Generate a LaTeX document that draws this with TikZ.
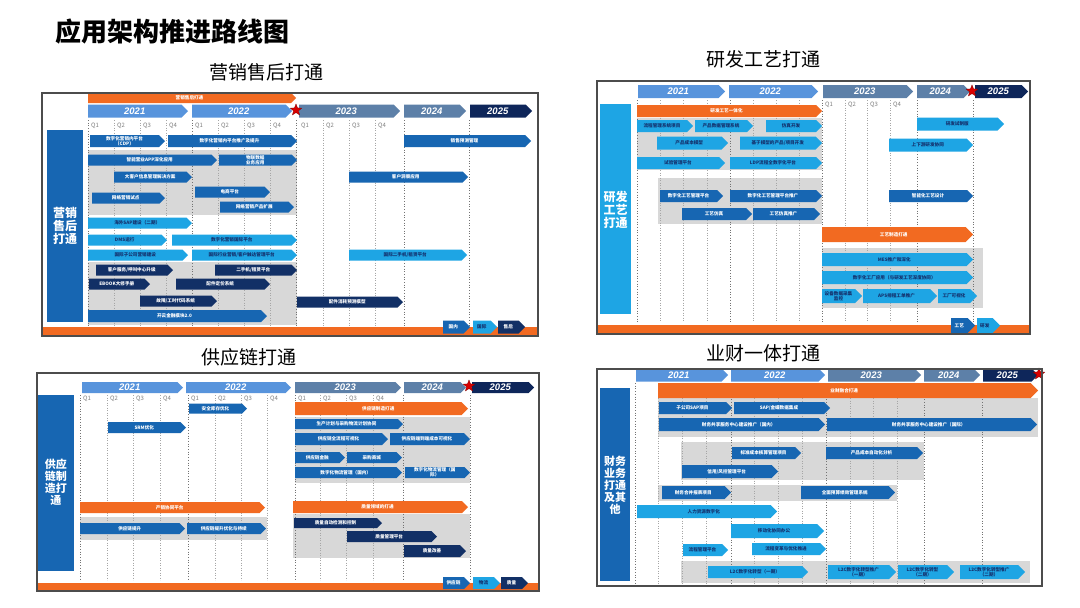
\documentclass[tikz,border=0pt]{standalone}
\usepackage{fontspec}
\setmainfont{Noto Sans CJK SC}
\newfontfamily\lsans{Liberation Sans}
\usetikzlibrary{shapes.geometric}
\definecolor{dblue}{RGB}{23,102,178}
\definecolor{lblue}{RGB}{30,165,228}
\definecolor{navy}{RGB}{18,48,102}
\definecolor{orng}{RGB}{242,106,33}
\definecolor{gbg}{RGB}{216,216,216}
\definecolor{yA}{RGB}{88,148,220}
\definecolor{yB}{RGB}{93,128,168}
\definecolor{yC}{RGB}{14,38,90}
\definecolor{dtext}{RGB}{20,50,110}
\newcounter{cv}
\newcommand\chev[6][11]{%
  \stepcounter{cv}%
  \fill[#5] (#2,#4-#1/2) -- (#3-#1/2,#4-#1/2) -- (#3,#4) -- (#3-#1/2,#4+#1/2) -- (#2,#4+#1/2) -- cycle;
  \node[bt,#5t] (c\arabic{cv}) at ({(#2+#3)/2-#1/4},#4) {#6};}
\newcommand\yr[6]{%
  \stepcounter{cv}%
  \fill[#5] (#1,#3-#4/2) -- (#2-#4/2,#3-#4/2) -- (#2,#3) -- (#2-#4/2,#3+#4/2) -- (#1,#3+#4/2) -- cycle;
  \node[yt] (y\arabic{cv}) at ({(#1+#2)/2-#4/4},#3) {#6};}
\begin{document}
\begin{tikzpicture}[x=1pt,y=-1pt,
  B/.style={fill=dblue}, Bt/.style={text=white},
  L/.style={fill=lblue}, Lt/.style={text=dtext},
  N/.style={fill=navy}, Nt/.style={text=white},
  O/.style={fill=orng}, Ot/.style={text=white},
  bt/.style={font=\fontsize{4.6}{5.3}\selectfont\bfseries,inner sep=0pt,align=center},
  yt/.style={text=white,font=\lsans\fontsize{9.5}{10}\selectfont\bfseries\itshape,inner sep=0pt},
  ql/.style={text=black!50,font=\fontsize{6}{7}\selectfont,anchor=west,inner sep=0pt},
  lbl/.style={text=white,font=\fontsize{12}{13}\selectfont\bfseries,align=center,inner sep=0pt},
  ptitle/.style={font=\fontsize{19}{21}\selectfont,inner sep=0pt},
  frame/.style={draw=black!70,line width=1.1pt},
  qline/.style={draw=black!35,dotted,line width=0.5pt},
  yline/.style={draw=black!55,dotted,line width=0.7pt},
  rstar/.style={star,star points=5,star point ratio=2.3,fill=red!85!black,draw=red!50!black,line width=0.3pt,minimum size=12pt,inner sep=0pt}]
\useasboundingbox (0,0) rectangle (1080,608);
\fill[white] (0,0) rectangle (1080,608);
\node[anchor=west,font=\fontsize{26}{28}\selectfont\bfseries,inner sep=0pt] (title) at (55,32) {应用架构推进路线图};
\node[ptitle] (t1) at (266,72) {营销售后打通};
\node[ptitle] (t2) at (763,59) {研发工艺打通};
\node[ptitle] (t3) at (249,357) {供应链打通};
\node[ptitle] (t4) at (763,353) {业财一体打通};

%================ Panel 1
\fill[gbg] (88,150) rectangle (297,215);
\fill[gbg] (88,262) rectangle (297,325);
\foreach \x in {114,140,166,218,244,270,323,349,375} \draw[qline] (\x,120)--(\x,326);
\foreach \x in {88,192,296,404,469} \draw[yline] (\x,120)--(\x,326);
\chev[10]{88}{296}{98}{O}{营销售后打通}
\yr{88}{188}{111}{13}{yA}{2021}
\yr{192}{292}{111}{13}{yA}{2022}
\yr{299}{400}{111}{13}{yB}{2023}
\yr{404}{466}{111}{13}{yB}{2024}
\yr{470}{532}{111}{13}{yC}{2025}
\node[rstar] (s1) at (296,110) {};
\foreach \x/\q in {88/Q1,114/Q2,140/Q3,166/Q4,192/Q1,218/Q2,244/Q3,270/Q4,298/Q1,323/Q2,349/Q3,375/Q4} \node[ql] at (\x+3,126) {\q};
\fill[dblue] (47,130) rectangle (83,322);
\node[lbl] (l1) at (65,226) {营销\\售后\\打通};
\chev[12]{90}{165}{141}{B}{数字化营销内平台\\（CDP）}
\chev[12]{168}{297}{141}{B}{数字化营销内平台推广及提升}
\chev[12]{404}{531}{141}{B}{销售预测管理}
\chev{88}{217}{160}{B}{智能营业APP深化应用}
\chev{219}{297}{160}{B}{物联数据\\业务应用}
\chev{114}{192}{177}{B}{大客户信息管理解决方案}
\chev{349}{468}{177}{B}{客户洞察应用}
\chev{195}{270}{192}{B}{电商平台}
\chev{92}{165}{198}{B}{网络营销试点}
\chev{220}{294}{207}{B}{网络营销产品扩展}
\chev{88}{192}{223}{L}{海外SAP建设（二期）}
\chev{88}{167}{240}{L}{DMS运行}
\chev{172}{297}{240}{L}{数字化营销国际平台}
\chev{88}{188}{255}{L}{国际子公司营销建设}
\chev{192}{297}{255}{L}{国际行业营销/客户触达管理平台}
\chev{349}{467}{255}{L}{国际二手机/租赁平台}
\chev{96}{173}{270}{N}{客户服务/呼叫中心升级}
\chev{215}{297}{270}{N}{二手机/租赁平台}
\chev{89}{150}{284}{N}{EBOOK大修手册}
\chev{176}{270}{284}{N}{配件定价系统}
\chev{140}{217}{301}{N}{故障/工时代码系统}
\chev{297}{403}{302}{N}{配件消耗预测模型}
\chev[12]{88}{267}{316}{B}{开云金融模块2.0}
\fill[orng] (42,327) rectangle (538,335);
\chev[13]{443}{470}{327}{B}{国内}
\chev[13]{473}{497}{327}{L}{国际}
\chev[13]{498}{525}{327}{N}{售后}
\draw[frame] (42,93) rectangle (538,336);

%================ Panel 2
\fill[gbg] (637,118) rectangle (822,170);
\fill[gbg] (658,178) rectangle (822,224);
\fill[gbg] (822,248) rectangle (983,308);
\foreach \x in {660,683,707,753,776,799,845,867,890} \draw[qline] (\x,100)--(\x,322);
\foreach \x in {637,730,822,917,973} \draw[yline] (\x,100)--(\x,322);
\yr{638}{725}{91.5}{13}{yA}{2021}
\yr{729}{818}{91.5}{13}{yA}{2022}
\yr{823}{913}{91.5}{13}{yB}{2023}
\yr{917}{970}{91.5}{13}{yB}{2024}
\yr{975}{1028}{91.5}{13}{yC}{2025}
\node[rstar] (s2) at (972,91) {};
\foreach \x/\q in {822/Q1,845/Q2,867/Q3,890/Q4} \node[ql] at (\x+3,105) {\q};
\chev[12]{637}{822}{111}{O}{研发工艺一体化}
\fill[lblue] (600,104) rectangle (631,314);
\node[lbl] (l2) at (615.5,210) {研发\\工艺\\打通};
\chev[12]{637}{693}{126}{L}{流程管理系统项目}
\chev[12]{695}{753}{126}{L}{产品数据管理系统}
\chev[12]{766}{822}{126}{L}{仿真开发}
\chev[13]{917}{1004}{124}{L}{研发试制版}
\chev[13]{657}{728}{143}{L}{产品成本模型}
\chev[13]{740}{822}{143}{L}{基于模型的产品/项目开发}
\chev[13]{889}{973}{145}{L}{上下游研发协同}
\chev[12]{637}{725}{163}{L}{试验管理平台}
\chev[12]{730}{822}{163}{L}{LDP流程全数字化平台}
\chev[12]{660}{723}{196}{B}{数字化工艺管理平台}
\chev[12]{730}{822}{196}{B}{数字化工艺管理平台推广}
\chev[12]{889}{973}{196}{B}{智能化工艺设计}
\chev[12]{682}{752}{214}{B}{工艺仿真}
\chev[12]{753}{820}{214}{B}{工艺仿真推广}
\chev[15]{822}{973}{234.5}{O}{工艺制造打通}
\chev[13]{822}{973}{259.5}{L}{MES推广和深化}
\chev[13]{822}{973}{277.5}{L}{数字化工厂应用（与研发工艺深度协同）}
\chev[14]{822}{862}{296}{L}{设备数据采集\\监控}
\chev[14]{863}{937}{296}{L}{APS排程工单推广}
\chev[14]{938}{977}{296}{L}{工厂可视化}
\fill[orng] (597,325) rectangle (1030,333);
\chev[15]{951}{975}{325.5}{B}{工艺}
\chev[15]{977}{1000}{325.5}{L}{研发}
\draw[frame] (597,81) rectangle (1030,334);

%================ Panel 3
\fill[gbg] (295,417) rectangle (470,483);
\fill[gbg] (80,517) rectangle (267,540);
\fill[gbg] (293,514) rectangle (470,558);
\foreach \x in {107,133,160,215,241,267,320,346,373} \draw[qline] (\x,395)--(\x,580);
\foreach \x in {80,188,295,403,470} \draw[yline] (\x,395)--(\x,580);
\yr{82}{183}{387.5}{11}{yA}{2021}
\yr{186}{291}{387.5}{11}{yA}{2022}
\yr{295}{401}{387.5}{11}{yB}{2023}
\yr{404}{466}{387.5}{11}{yB}{2024}
\yr{472}{534}{387.5}{11}{yC}{2025}
\node[rstar] (s3) at (469,386) {};
\foreach \x/\q in {80/Q1,107/Q2,133/Q3,160/Q4,188/Q1,215/Q2,241/Q3,267/Q4,295/Q1,320/Q2,346/Q3,373/Q4} \node[ql] at (\x+3,399) {\q};
\fill[dblue] (38,395) rectangle (74,571);
\node[lbl,font=\fontsize{11}{12}\selectfont\bfseries] (l3) at (56,482) {供应\\链制\\造打\\通};
\chev[10]{189}{247}{408.5}{B}{安全库存优化}
\chev{108}{186}{427.5}{B}{SRM优化}
\chev[13]{295}{468}{408.5}{O}{供应链制造打通}
\chev[10]{295}{403}{424}{B}{生产计划与采购物流计划协同}
\chev[12]{295}{388}{439}{B}{供应链全流程可视化}
\chev[12]{390}{470}{439}{B}{供应链端到端成本可视化}
\chev{295}{345}{457.5}{B}{供应链金融}
\chev{347}{402}{457.5}{B}{采购商城}
\chev{295}{402}{472.5}{B}{数字化物流管理（国内）}
\chev{405}{470}{472.5}{B}{数字化物流管理（国\\际）}
\chev{80}{265}{507.5}{O}{产销协同平台}
\chev{80}{185}{528.5}{B}{供应链提升}
\chev{187}{266}{528.5}{B}{供应链提升优化与持续}
\chev[12]{293}{468}{507}{O}{质量领域的打通}
\chev[10]{294}{382}{523}{N}{质量自动检测和控制}
\chev{347}{437}{536.5}{N}{质量管理平台}
\chev[12]{404}{466}{551}{N}{质量改善}
\fill[orng] (37,583) rectangle (539,590);
\chev[12]{443}{470}{583}{B}{供应链}
\chev[12]{473}{500}{583}{L}{物流}
\chev[12]{501}{528}{583}{N}{质量}
\draw[frame] (37,373) rectangle (539,591);

%================ Panel 4
\fill[gbg] (658,398) rectangle (1038,437);
\fill[gbg] (681,442) rectangle (924,480);
\fill[gbg] (658,485) rectangle (897,501);
\fill[gbg] (681,561) rectangle (1030,583);
\foreach \x in {658,682,706,754,778,802,850,873,897} \draw[qline] (\x,383)--(\x,586);
\foreach \x in {635,731,826,924,982} \draw[yline] (\x,383)--(\x,586);
\yr{636}{728}{375}{13}{yA}{2021}
\yr{731}{825}{375}{13}{yA}{2022}
\yr{828}{921}{375}{13}{yB}{2023}
\yr{924}{980}{375}{13}{yB}{2024}
\yr{983}{1038}{375}{13}{yC}{2025}
\node[rstar] (s4) at (1039,374) {};
\fill[dblue] (600,388) rectangle (630,581);
\node[lbl,font=\fontsize{11}{12}\selectfont\bfseries] (l4) at (615,485) {财务\\业务\\打通\\及其\\他};
\chev[15]{658}{1038}{390.5}{O}{业财融合打通}
\chev[12]{659}{732}{408}{B}{子公司SAP项目}
\chev[12]{734}{830}{408}{B}{SAP/金蝶数据集成}
\chev[13]{659}{825}{424.5}{B}{财务共享服务中心建设推广（国内）}
\chev[13]{827}{1037}{424.5}{B}{财务共享服务中心建设推广（国际）}
\chev[12]{732}{801}{453}{B}{标准成本核算管理项目}
\chev[12]{826}{923}{453}{B}{产品成本自动化分析}
\chev[13]{682}{778}{471.5}{B}{信用/风控管理平台}
\chev[13]{662}{731}{492.5}{B}{财务合并报表项目}
\chev[13]{801}{895}{492.5}{B}{全面预算绩效管理系统}
\chev[13]{637}{777}{511.5}{L}{人力资源数字化}
\chev[14]{731}{824}{531}{L}{移动化协同办公}
\chev[12]{683}{728}{550}{L}{流程管理平台}
\chev[12]{752}{826}{549}{L}{流程变革与优化推进}
\chev[12]{708}{808}{572}{L}{L2C数字化转型（一期）}
\chev[14]{828}{896}{572}{L}{L2C数字化转型推广\\（一期）}
\chev[14]{898}{954}{572}{L}{L2C数字化转型\\（二期）}
\chev[14]{960}{1025}{572}{L}{L2C数字化转型推广\\（二期）}
\draw[frame] (597,369) rectangle (1042,586);
\end{tikzpicture}
\end{document}
